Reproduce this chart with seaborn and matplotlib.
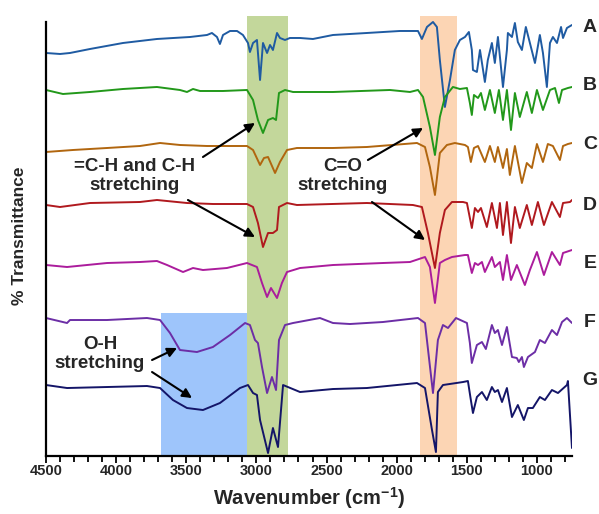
import matplotlib
matplotlib.use("Agg")
import matplotlib.pyplot as plt
from matplotlib.ticker import MultipleLocator
import seaborn as sns

# spectra (wavenumber cm-1, offset transmittance, arbitrary units)
wn_a = [4500, 4400, 4329, 4186, 3951, 3709, 3473, 3352, 3317, 3281, 3260, 3238, 3188, 3138, 3096,
        3060, 3046, 3024, 2996, 2974, 2953, 2924, 2903, 2882, 2853, 2832, 2796, 2761, 2689, 2597,
        2454, 2212, 1977, 1848, 1820, 1784, 1741, 1713, 1692, 1656, 1620, 1585, 1549, 1513, 1485,
        1464, 1456, 1428, 1406, 1371, 1350, 1321, 1300, 1278, 1242, 1214, 1207, 1178, 1157, 1136,
        1107, 1079, 1050, 1014, 979, 957, 929, 907, 886, 857, 828, 814, 786, 750]
t_a = [403, 402, 403, 407, 413, 417, 419, 421, 423, 419, 412, 421, 425, 425, 421,
       413, 404, 413, 416, 376, 413, 403, 411, 406, 423, 418, 416, 418, 418, 417,
       421, 423, 425, 425, 417, 429, 434, 429, 396, 349, 376, 406, 416, 419, 424,
       406, 386, 384, 406, 374, 396, 413, 393, 419, 369, 406, 423, 419, 433, 414,
       406, 429, 413, 393, 421, 403, 369, 413, 419, 413, 429, 418, 428, 431]

wn_b = [4500, 4379, 4186, 3951, 3709, 3545, 3495, 3452, 3402, 3238, 3067, 3024, 2989, 2953, 2917,
        2882, 2860, 2839, 2796, 2739, 2454, 2048, 1905, 1848, 1812, 1763, 1727, 1692, 1656, 1599,
        1549, 1499, 1478, 1464, 1449, 1420, 1399, 1371, 1335, 1300, 1271, 1242, 1214, 1185, 1157,
        1122, 1072, 1036, 1000, 957, 907, 871, 843, 821, 779, 750]
t_b = [366, 362, 364, 367, 369, 366, 364, 367, 365, 365, 366, 356, 336, 323, 336,
       338, 336, 363, 366, 364, 364, 366, 364, 366, 359, 329, 301, 339, 359, 369,
       367, 368, 353, 341, 361, 358, 363, 346, 366, 343, 366, 336, 366, 326, 363,
       339, 364, 343, 366, 346, 366, 368, 353, 366, 368, 369]

wn_c = [4500, 4308, 4065, 3830, 3687, 3545, 3352, 3067, 3024, 2974, 2946, 2917, 2867, 2832, 2782,
        2711, 2454, 2212, 1855, 1798, 1763, 1727, 1692, 1642, 1585, 1513, 1492, 1471, 1449, 1420,
        1371, 1335, 1300, 1278, 1242, 1214, 1193, 1157, 1107, 1072, 1036, 1000, 957, 922, 886,
        836, 814, 779, 750]
t_c = [304, 306, 308, 310, 313, 311, 310, 310, 306, 291, 298, 299, 283, 294, 306,
       308, 308, 309, 313, 309, 289, 261, 303, 311, 313, 311, 309, 294, 308, 310,
       294, 310, 294, 309, 288, 307, 281, 310, 273, 293, 288, 312, 294, 312, 310,
       296, 310, 312, 313]

wn_d = [4500, 4400, 4186, 3830, 3709, 3495, 3310, 3067, 3024, 2989, 2953, 2917, 2882, 2853, 2839,
        2782, 2711, 2212, 1884, 1820, 1777, 1727, 1692, 1656, 1606, 1527, 1499, 1464, 1442, 1420,
        1399, 1357, 1321, 1285, 1264, 1242, 1214, 1185, 1157, 1122, 1072, 1036, 993, 950, 893,
        836, 814, 764, 750]
t_d = [251, 249, 253, 254, 256, 253, 252, 252, 249, 233, 209, 223, 223, 226, 249,
       253, 251, 253, 251, 249, 223, 188, 223, 246, 254, 254, 253, 228, 248, 244,
       248, 229, 253, 228, 253, 221, 254, 213, 249, 228, 251, 231, 254, 231, 254,
       239, 253, 254, 256]

wn_e = [4500, 4350, 4065, 3830, 3709, 3637, 3523, 3452, 3381, 3210, 3067, 2996, 2960, 2924, 2896,
        2853, 2818, 2782, 2689, 2454, 2098, 1905, 1798, 1763, 1727, 1692, 1656, 1606, 1513, 1492,
        1464, 1442, 1420, 1392, 1371, 1321, 1300, 1264, 1242, 1214, 1185, 1143, 1086, 1050, 1000,
        950, 893, 836, 814, 750]
t_e = [191, 189, 193, 194, 195, 191, 184, 188, 186, 188, 193, 189, 173, 159, 168,
       158, 173, 184, 188, 191, 193, 194, 199, 189, 153, 193, 196, 199, 201, 201,
       183, 193, 191, 194, 184, 199, 189, 194, 176, 201, 176, 191, 171, 186, 204,
       181, 204, 191, 203, 206]

wn_f = [4500, 4350, 4329, 4065, 3780, 3687, 3616, 3545, 3424, 3310, 3188, 3081, 3046, 3010, 2989,
        2960, 2924, 2889, 2860, 2839, 2796, 2739, 2547, 2454, 2333, 2098, 1848, 1798, 1741, 1706,
        1670, 1634, 1577, 1499, 1478, 1464, 1428, 1392, 1364, 1321, 1300, 1278, 1249, 1214, 1178,
        1143, 1129, 1107, 1093, 1064, 1014, 979, 943, 893, 857, 821, 786, 750]
t_f = [138, 133, 136, 136, 138, 136, 123, 106, 104, 109, 121, 133, 131, 116, 113,
       89, 63, 79, 66, 116, 131, 133, 138, 133, 132, 134, 138, 133, 63, 116,
       131, 128, 138, 133, 113, 93, 111, 114, 107, 131, 123, 126, 111, 129, 99,
       98, 94, 99, 89, 99, 104, 116, 113, 126, 121, 134, 138, 133]

wn_g = [4500, 4350, 4065, 3780, 3687, 3595, 3495, 3381, 3260, 3117, 3060, 3024, 2996, 2974, 2917,
        2882, 2846, 2810, 2689, 2454, 2212, 1855, 1798, 1748, 1720, 1706, 1670, 1527, 1492, 1471,
        1456, 1428, 1392, 1357, 1321, 1300, 1278, 1249, 1214, 1178, 1136, 1093, 1064, 1029, 979,
        943, 893, 850, 786, 779, 750]
t_g = [71, 68, 69, 70, 68, 56, 48, 46, 53, 68, 71, 63, 61, 36, 3,
       28, 9, 71, 64, 67, 68, 73, 68, 26, 4, 64, 71, 74, 75, 56,
       43, 59, 64, 56, 69, 64, 66, 54, 68, 39, 51, 36, 48, 48, 59,
       56, 66, 63, 71, 75, 8]

sample_names = ["A", "B", "C", "D", "E", "F", "G"]
label_y = [428, 370, 311, 251, 193, 134, 76]
colors = ["#1f5ba2", "#22981a", "#b1660f", "#b0191e", "#ab1c9c", "#6c2ea6", "#141568"]

# highlighted bands (cm-1)
band_oh = (3682, 3069)
band_ch = (3069, 2773)
band_co = (1834, 1568)

sns.set_style("ticks")
plt.rcParams["font.family"] = ["Liberation Sans", "DejaVu Sans"]
plt.rcParams["font.weight"] = "bold"
plt.rcParams["axes.labelweight"] = "bold"
plt.rcParams["mathtext.default"] = "regular"

fig = plt.figure(figsize=(5.99, 5.14), dpi=100)
ax = fig.add_axes([0.0768, 0.1128, 0.8781, 0.8561])

ymax = 440
ax.axvspan(band_oh[0], band_oh[1], ymin=0, ymax=143 / ymax, color="#9ec5fb", lw=0, zorder=0)
ax.axvspan(band_ch[0], band_ch[1], color="#c3d79b", lw=0, zorder=0)
ax.axvspan(band_co[0], band_co[1], color="#fcd5b4", lw=0, zorder=0)

spectra = [(wn_a, t_a), (wn_b, t_b), (wn_c, t_c), (wn_d, t_d),
           (wn_e, t_e), (wn_f, t_f), (wn_g, t_g)]
for (x, y), c, name, ly in zip(spectra, colors, sample_names, label_y):
    sns.lineplot(x=x, y=y, color=c, lw=1.4, ax=ax, estimator=None, sort=False)
    ax.annotate(name, xy=(750, ly), xytext=(13, 0), textcoords="offset points",
                ha="center", va="center", fontsize=14, fontweight="bold",
                annotation_clip=False)

ax.set_xlim(4500, 750)
ax.set_ylim(0, ymax)
ax.xaxis.set_major_locator(MultipleLocator(500))
ax.xaxis.set_minor_locator(MultipleLocator(100))
ax.set_yticks([])
ax.tick_params(axis="x", which="major", direction="out", length=5, width=1.3,
               labelsize=10.5, pad=1, color="black")
ax.tick_params(axis="x", which="minor", direction="out", length=4, width=1.3, color="black")

for s in ["top", "right"]:
    ax.spines[s].set_visible(False)
ax.spines["left"].set_linewidth(1.6)
ax.spines["bottom"].set_linewidth(1.6)
ax.spines["left"].set_color("black")
ax.spines["bottom"].set_color("black")
ax.spines["left"].set_bounds(0, 434)

ax.set_xlabel("Wavenumber (cm$^{-1}$)", fontsize=14.5, fontweight="bold", labelpad=5)
ax.set_ylabel("% Transmittance", fontsize=12.5, fontweight="bold", labelpad=14)

# band annotations
arrow = dict(arrowstyle="-|>", color="black", lw=1.5, mutation_scale=14, shrinkA=0, shrinkB=0)
ax.text(3866, 280, "=C-H and C-H\nstretching", ha="center", va="center",
        fontsize=13.5, fontweight="bold", linespacing=1.2)
ax.annotate("", xy=(3010, 333), xytext=(3381, 299), arrowprops=arrow)
ax.annotate("", xy=(3010, 219), xytext=(3488, 256), arrowprops=arrow)

ax.text(2383, 280, "C=O\nstretching", ha="center", va="center",
        fontsize=13.5, fontweight="bold", linespacing=1.2)
ax.annotate("", xy=(1812, 328), xytext=(2205, 296), arrowprops=arrow)
ax.annotate("", xy=(1798, 216), xytext=(2176, 254), arrowprops=arrow)

ax.text(4115, 102, "O-H\nstretching", ha="center", va="center",
        fontsize=13.5, fontweight="bold", linespacing=1.2)
ax.annotate("", xy=(3566, 108), xytext=(3744, 96), arrowprops=arrow)
ax.annotate("", xy=(3459, 58), xytext=(3744, 84), arrowprops=arrow)

fig.savefig("out.png", dpi=100)
